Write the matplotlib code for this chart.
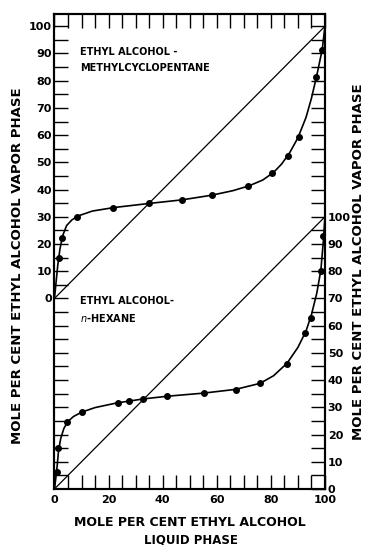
import numpy as np
import matplotlib
matplotlib.use("Agg")
import matplotlib.pyplot as plt
from matplotlib.ticker import FixedLocator

# measured points, ethyl alcohol - methylcyclopentane (left scale, mole %)
mcp_x = [1.8, 2.7, 8.4, 21.5, 34.9, 47.0, 58.3, 71.6, 80.3, 86.2, 90.3, 96.6, 99.0]
mcp_y = [14.7, 22.1, 30.0, 33.3, 34.9, 36.1, 38.0, 41.3, 46.2, 52.5, 59.4, 81.5, 91.3]
# smooth curve drawn through them
mcp_curve_x = [0, 0.6, 1.2, 2.0, 3.0, 4.5, 6.5, 9, 14, 22, 35, 47, 58, 66, 72, 77, 81, 84, 87, 90, 93, 95, 97, 99, 100]
mcp_curve_y = [0, 6, 12, 18, 23, 26.8, 28.9, 30.4, 32.1, 33.4, 34.9, 36.2, 37.9, 39.6, 41.4, 43.5, 46.3, 49.4, 53.6, 59.0, 66.5, 73.5, 82.0, 91.5, 100]

# measured points, ethyl alcohol - n-hexane (right scale, mole %)
hex_x = [1.05, 1.4, 4.5, 10.2, 23.6, 27.7, 32.8, 41.5, 55.3, 67.0, 76.0, 85.8, 92.5, 94.7, 98.5, 99.4]
hex_y = [6.1, 15.0, 24.5, 28.1, 31.7, 32.2, 33.2, 34.1, 35.2, 36.4, 38.9, 46.0, 57.2, 62.8, 80.1, 93.0]
hex_curve_x = [0, 0.5, 1.0, 1.5, 2.3, 3.5, 5, 7, 10, 15, 23, 33, 42, 55, 67, 76, 81, 86, 90, 93, 95, 97, 98.5, 99.4, 100]
hex_curve_y = [0, 4, 8.5, 14, 18.5, 22.3, 24.8, 26.6, 28.2, 29.9, 31.6, 33.1, 34.1, 35.2, 36.6, 38.8, 41.6, 46.2, 52.0, 58.0, 64.0, 72.0, 80.5, 91.0, 100]

offset = 70  # left-scale zero sits at right-scale 70
x_ticklabels = [0, 20, 40, 60, 80, 100]
y_ticklabels = [0, 10, 20, 30, 40, 50, 60, 70, 80, 90, 100]

fig = plt.figure(figsize=(3.68, 5.45), dpi=100)
ax = fig.add_axes([0.148, 0.1028, 0.735, 0.8715])
ax.set_xlim(0, 100)
ax.set_ylim(0, 174.5)

lw_frame = 1.5
for s in ax.spines.values():
    s.set_linewidth(lw_frame)

# diagonals
ax.plot([0, 100], [offset, offset + 100], color="black", lw=0.9)
ax.plot([0, 100], [0, 100], color="black", lw=0.9)

# curves and points
ax.plot(mcp_curve_x, np.array(mcp_curve_y) + offset, color="black", lw=1.2)
ax.plot(mcp_x, np.array(mcp_y) + offset, "o", color="black", ms=4)
ax.plot(hex_curve_x, hex_curve_y, color="black", lw=1.2)
ax.plot(hex_x, hex_y, "o", color="black", ms=4)

tick_len = 10
font = dict(fontsize=8, fontweight="bold", family="DejaVu Sans")

# x ticks
ax.xaxis.set_major_locator(FixedLocator(x_ticklabels))
ax.xaxis.set_minor_locator(FixedLocator([v for v in range(5, 100, 5) if v % 20]))
ax.set_xticklabels([str(v) for v in x_ticklabels], **font)
ax.tick_params(axis="x", which="both", direction="in", length=tick_len, width=1.0,
               top=True, bottom=True, pad=4)

# left ticks: labelled 0..100 from offset
left_major = [offset + v for v in y_ticklabels]
ax.yaxis.set_major_locator(FixedLocator(left_major))
ax.yaxis.set_minor_locator(FixedLocator([v for v in range(5, 175, 5) if v not in left_major]))
ax.set_yticklabels([str(v) for v in y_ticklabels], **font)
ax.tick_params(axis="y", which="both", direction="in", length=tick_len, width=1.0,
               left=True, right=False, pad=2)

# right ticks: labelled 0..100 from the bottom
ax2 = ax.twinx()
ax2.set_ylim(ax.get_ylim())
for s in ax2.spines.values():
    s.set_linewidth(lw_frame)
ax2.yaxis.set_major_locator(FixedLocator(y_ticklabels))
ax2.yaxis.set_minor_locator(FixedLocator([v for v in range(5, 175, 5) if v not in y_ticklabels]))
ax2.set_yticklabels([str(v) for v in y_ticklabels], **font)
ax2.tick_params(axis="y", which="both", direction="in", length=tick_len, width=1.0,
                left=False, right=True, pad=2)

# system names
tfont = dict(fontsize=7, fontweight="bold", family="DejaVu Sans", va="center", ha="left")
ax.text(9.4, 160.7, "ETHYL ALCOHOL -", **tfont)
ax.text(9.4, 154.6, "METHYLCYCLOPENTANE", **tfont)
ax.text(9.4, 68.9, "ETHYL ALCOHOL-", **tfont)
ax.text(9.4, 62.8, r"$\it{n}$-HEXANE", **tfont)

# axis titles
lfont = dict(fontweight="bold", family="DejaVu Sans", ha="center", va="center")
fig.text(0.515, 1 - 522 / 545, "MOLE PER CENT ETHYL ALCOHOL", fontsize=9, **lfont)
fig.text(0.52, 1 - 540 / 545, "LIQUID PHASE", fontsize=8.5, **lfont)
fig.text(18 / 368, 1 - 266 / 545, "MOLE PER CENT ETHYL ALCOHOL VAPOR PHASE",
         rotation=90, fontsize=9.5, **lfont)
fig.text(359 / 368, 1 - 262 / 545, "MOLE PER CENT ETHYL ALCOHOL VAPOR PHASE",
         rotation=90, fontsize=9.5, **lfont)

fig.savefig("out.png", dpi=100)
